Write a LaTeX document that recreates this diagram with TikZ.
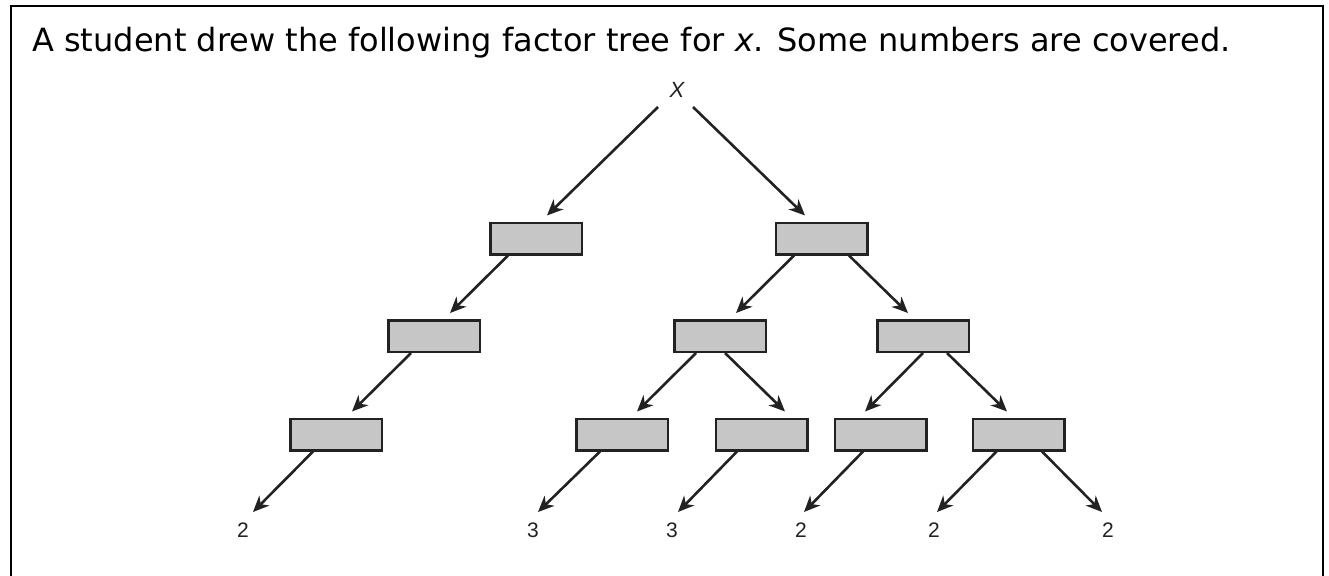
\documentclass[tikz,border=0pt]{standalone}
\usepackage{fontspec}
\setmainfont{DejaVu Sans}
\newfontfamily\lab{Liberation Sans}
\usetikzlibrary{arrows.meta}
\definecolor{boxfill}{HTML}{C6C6C6}
\definecolor{ink}{HTML}{222222}
\begin{document}
\begin{tikzpicture}[x=1pt,y=1pt,
  fbox/.style={draw=ink,fill=boxfill,line width=2.5pt,minimum width=91.5pt,minimum height=31.5pt,inner sep=0pt},
  arr/.style={draw=ink,line width=2.6pt,-{Stealth[length=16pt,width=14pt,inset=5pt]}},
  leaf/.style={font=\lab\fontsize{21}{24}\selectfont,text=ink,anchor=base,inner sep=0pt},
  title/.style={font=\fontsize{32}{38}\selectfont,anchor=base west,inner sep=0pt}]
\useasboundingbox (0,0) rectangle (1329,-575);
% frame
\draw[black,line width=2pt] (11,-578) -- (11,-6) -- (1323,-6) -- (1323,-578);
\node[title] (T) at (32,-52) {A student drew the following factor tree for \textit{x}. Some numbers are covered.};
% root
\node[leaf,font=\lab\itshape\fontsize{22}{24}\selectfont] (X) at (677,-98) {X};
% boxes
\node[fbox] (A1) at (536,-238.5) {};
\node[fbox] (B1) at (821.5,-238.5) {};
\node[fbox] (A2) at (434,-336) {};
\node[fbox] (B2) at (720,-336) {};
\node[fbox] (C2) at (923,-336) {};
\node[fbox] (A3) at (336,-434.5) {};
\node[fbox] (B3) at (622,-434.5) {};
\node[fbox] (C3) at (761.5,-434.5) {};
\node[fbox] (D3) at (880.5,-434.5) {};
\node[fbox] (E3) at (1018.5,-434.5) {};
% leaves
\node[leaf] (l1) at (243,-537) {2};
\node[leaf] (l2) at (533,-537) {3};
\node[leaf] (l3) at (672,-537) {3};
\node[leaf] (l4) at (801,-537) {2};
\node[leaf] (l5) at (934,-537) {2};
\node[leaf] (l6) at (1108,-537) {2};
% arrows root
\draw[arr] ([xshift=-19pt,yshift=-9pt]X.base) -- ([xshift=11pt,yshift=6pt]A1.north);
\draw[arr] ([xshift=16pt,yshift=-9pt]X.base) -- ([xshift=-16.5pt,yshift=6pt]B1.north);
% level 1 -> 2
\draw[arr] ([xshift=-28pt]A1.south) -- ([xshift=16pt,yshift=6pt]A2.north);
\draw[arr] ([xshift=-27.5pt]B1.south) -- ([xshift=16pt,yshift=6pt]B2.north);
\draw[arr] ([xshift=27.5pt]B1.south) -- ([xshift=-15pt,yshift=6pt]C2.north);
% level 2 -> 3
\draw[arr] ([xshift=-23pt]A2.south) -- ([xshift=16pt,yshift=6pt]A3.north);
\draw[arr] ([xshift=-24pt]B2.south) -- ([xshift=15pt,yshift=6pt]B3.north);
\draw[arr] ([xshift=5pt]B2.south) -- ([xshift=23.5pt,yshift=6pt]C3.north);
\draw[arr] ([xshift=0pt]C2.south) -- ([xshift=-15.5pt,yshift=6pt]D3.north);
\draw[arr] ([xshift=24pt]C2.south) -- ([xshift=-11.5pt,yshift=6pt]E3.north);
% level 3 -> leaves
\draw[arr] ([xshift=-23pt]A3.south) -- ([xshift=10pt,yshift=25pt]l1.base);
\draw[arr] ([xshift=-22pt]B3.south) -- ([xshift=5pt,yshift=25pt]l2.base);
\draw[arr] ([xshift=-24.5pt]C3.south) -- ([xshift=6pt,yshift=25pt]l3.base);
\draw[arr] ([xshift=-17.5pt]D3.south) -- ([xshift=3pt,yshift=25pt]l4.base);
\draw[arr] ([xshift=-22pt]E3.south) -- ([xshift=3pt,yshift=25pt]l5.base);
\draw[arr] ([xshift=23.5pt]E3.south) -- ([xshift=-6pt,yshift=25pt]l6.base);
\end{tikzpicture}
\end{document}
